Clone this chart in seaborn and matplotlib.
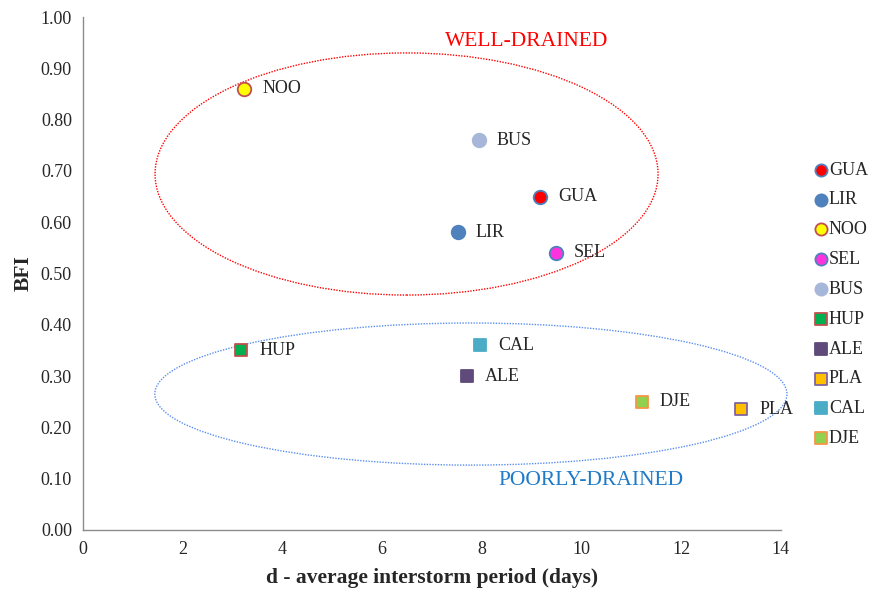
import matplotlib
matplotlib.use("Agg")
import matplotlib.pyplot as plt
from matplotlib.patches import Ellipse
import seaborn as sns
import pandas as pd

# Catchment data: average interstorm period (days) vs baseflow index
stations = ["GUA", "LIR", "NOO", "SEL", "BUS", "HUP", "ALE", "PLA", "CAL", "DJE"]
interstorm_days = [9.17, 7.52, 3.23, 9.49, 7.94, 3.17, 7.70, 13.20, 7.96, 11.21]
bfi = [0.65, 0.58, 0.86, 0.54, 0.76, 0.35, 0.30, 0.235, 0.36, 0.25]
drainage = ["well", "well", "well", "well", "well",
            "poor", "poor", "poor", "poor", "poor"]

face_colors = ["#ff0000", "#4f81bd", "#ffff00", "#ff33dd", "#a7b7d9",
               "#00b050", "#604a7b", "#ffc000", "#4bacc6", "#92d050"]
edge_colors = ["#4f81bd", "#4f81bd", "#c0504d", "#4f81bd", "#a7b7d9",
               "#c0504d", "#604a7b", "#8064a2", "#4bacc6", "#f79646"]

df = pd.DataFrame({"station": stations, "d": interstorm_days, "BFI": bfi,
                   "drainage": drainage})

sns.set_style("white")
plt.rcParams["font.family"] = ["Liberation Serif", "DejaVu Serif"]

fig = plt.figure(figsize=(8.72, 5.99), dpi=100)
ax = fig.add_axes([0.0952, 0.1152, 0.8004, 0.8564])

for i, row in df.iterrows():
    marker = "o" if row["drainage"] == "well" else "s"
    size = 95 if marker == "o" else 85
    sns.scatterplot(x=[row["d"]], y=[row["BFI"]], ax=ax, marker=marker, s=size,
                    color=face_colors[i], edgecolor=edge_colors[i],
                    linewidth=1.3, label=row["station"], zorder=3)
    ax.annotate(row["station"], (row["d"], row["BFI"]), xytext=(13, 0),
                textcoords="offset points", va="center", ha="left",
                fontsize=13, zorder=4)

# Drainage group outlines
ax.add_patch(Ellipse((6.49, 0.694), 10.09, 0.472, fill=False,
                     edgecolor="#ff0000", linestyle=(0, (1, 1)), linewidth=1.0,
                     clip_on=False, zorder=2))
ax.add_patch(Ellipse((7.78, 0.265), 12.68, 0.277, fill=False,
                     edgecolor="#5b8ff0", linestyle=(0, (1, 1)), linewidth=1.0,
                     clip_on=False, zorder=2))
ax.text(8.9, 0.953, "WELL-DRAINED", color="#ff0000", fontsize=15.5,
        ha="center", va="center")
ax.text(10.19, 0.096, "POORLY-DRAINED", color="#1f7ac8", fontsize=15.5,
        ha="center", va="center")

ax.set_xlim(0, 14)
ax.set_ylim(0, 1.0)
ax.set_xticks(range(0, 15, 2))
ax.set_yticks([i / 10 for i in range(11)])
ax.set_yticklabels([f"{i / 10:.2f}" for i in range(11)])
ax.tick_params(axis="both", which="major", direction="out", length=4,
               color="#8c8c8c", width=1, labelsize=13, pad=4)
for side in ["top", "right"]:
    ax.spines[side].set_visible(False)
for side in ["left", "bottom"]:
    ax.spines[side].set_color("#8c8c8c")
    ax.spines[side].set_linewidth(1.0)

ax.set_xlabel("d - average interstorm period (days)", fontsize=15.5,
              fontweight="bold", labelpad=7)
ax.set_ylabel("BFI", fontsize=15.5, fontweight="bold", labelpad=5)

ax.legend(loc="center left", bbox_to_anchor=(1.048, 0.44), frameon=False,
          borderaxespad=0, borderpad=0, handlelength=0.7, handletextpad=0.1,
          labelspacing=0.71, fontsize=13, markerscale=0.9)

fig.savefig("out.png", dpi=100)
